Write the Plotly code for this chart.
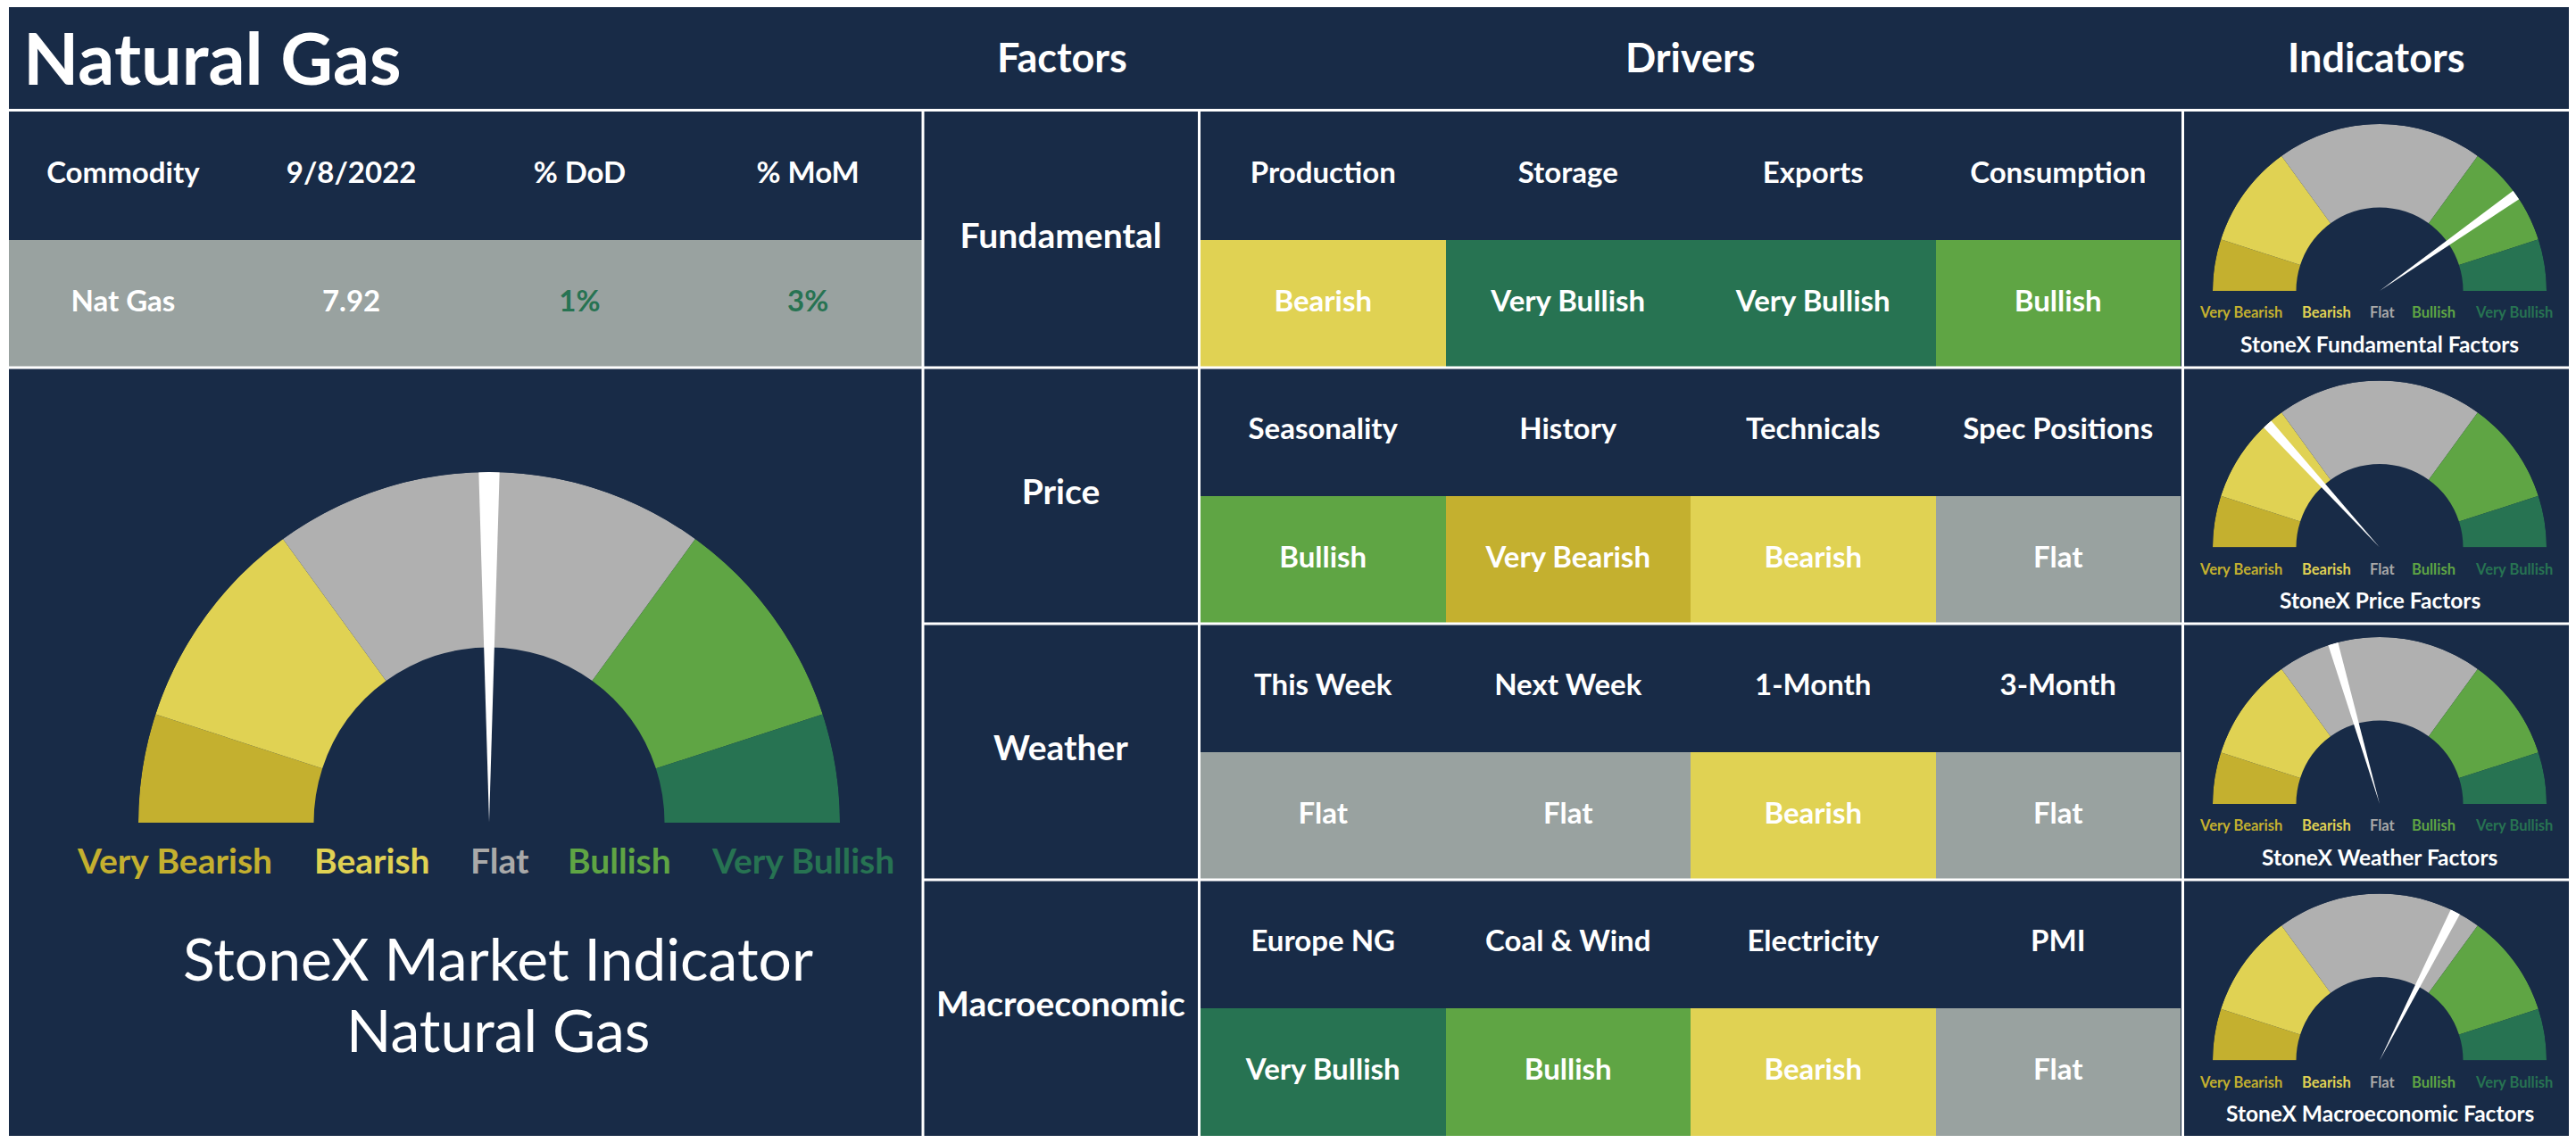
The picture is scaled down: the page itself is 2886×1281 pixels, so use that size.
import plotly.graph_objects as go

W, H = 2886, 1281          # browser window
M = 8                      # default page margin around the plot div

# ---------------- data ----------------
TITLE = "Natural Gas"
TABLE_HEADERS = ["Commodity", "9/8/2022", "% DoD", "% MoM"]
TABLE_VALUES = ["Nat Gas", "7.92", "1%", "3%"]
COLUMN_TITLES = ["Factors", "Drivers", "Indicators"]
FACTORS = ["Fundamental", "Price", "Weather", "Macroeconomic"]
DRIVERS = [
    ["Production", "Storage", "Exports", "Consumption"],
    ["Seasonality", "History", "Technicals", "Spec Positions"],
    ["This Week", "Next Week", "1-Month", "3-Month"],
    ["Europe NG", "Coal & Wind", "Electricity", "PMI"],
]
SIGNALS = [
    ["Bearish", "Very Bullish", "Very Bullish", "Bullish"],
    ["Bullish", "Very Bearish", "Bearish", "Flat"],
    ["Flat", "Flat", "Bearish", "Flat"],
    ["Very Bullish", "Bullish", "Bearish", "Flat"],
]
BANDS = ["Very Bearish", "Bearish", "Flat", "Bullish", "Very Bullish"]
BAND_SHARES = [10, 20, 40, 20, 10]
OVERALL_READING = 50
FACTOR_READINGS = [80.5, 26.5, 41, 65]
GAUGE_TITLES = ["StoneX Fundamental Factors", "StoneX Price Factors",
                "StoneX Weather Factors", "StoneX Macroeconomic Factors"]
MAIN_GAUGE_TITLE = ["StoneX Market Indicator", "Natural Gas"]

# ---------------- styles ----------------
NAVY = "#182b47"
WHITE = "#ffffff"
FONT = "Lato"
BAND_COLORS = {"Very Bearish": "#c4b02f", "Bearish": "#e0d253", "Flat": "#b0b0b0",
               "Bullish": "#5fa544", "Very Bullish": "#277352"}
CELL_COLORS = dict(BAND_COLORS, Flat="#99a2a0")
LABEL_COLORS = dict(BAND_COLORS, Flat="#a9a9a9")
UP_GREEN = "#277352"

FW, FH = W - 2 * M, H - 2 * M


def px(p):
    """page pixel x -> paper fraction"""
    return (p - M) / FW


def py(p):
    """page pixel y -> paper fraction"""
    return 1 - (p - M) / FH


def clamp(v):
    return min(1.0, max(0.0, v))


fig = go.Figure()

# discrete colour scale: 0 = navy header, 1..5 = signal bands
codes = [NAVY] + [CELL_COLORS[b] for b in BANDS]
n = len(codes)
cscale = []
for i, c in enumerate(codes):
    cscale += [[i / n, c], [(i + 1) / n, c]]

# ---------------- driver grid ----------------
z = []
for k in range(len(FACTORS)):
    z.append([0] * len(DRIVERS[k]))
    z.append([BANDS.index(s) + 1 for s in SIGNALS[k]])
fig.add_trace(go.Heatmap(z=z, x=list(range(4)), y=list(range(2 * len(FACTORS))),
                         colorscale=cscale, zmin=-0.5, zmax=n - 0.5, showscale=False,
                         hoverinfo="skip", xaxis="x", yaxis="y"))
tx, ty, tt = [], [], []
for k in range(len(FACTORS)):
    for j in range(4):
        tx += [j, j]
        ty += [2 * k, 2 * k + 1]
        tt += [DRIVERS[k][j], SIGNALS[k][j]]
fig.add_trace(go.Scatter(x=tx, y=ty, text=tt, mode="text", hoverinfo="skip",
                         textfont=dict(family=FONT, size=33, color=WHITE, weight=700),
                         xaxis="x", yaxis="y", showlegend=False))

# ---------------- factor column ----------------
fig.add_trace(go.Scatter(x=[0] * len(FACTORS), y=[2 * k + 0.5 for k in range(len(FACTORS))],
                         text=FACTORS, mode="text", hoverinfo="skip",
                         textfont=dict(family=FONT, size=39, color=WHITE, weight=700),
                         xaxis="x2", yaxis="y", showlegend=False))

# ---------------- commodity table ----------------
fig.add_trace(go.Heatmap(z=[[0] * 4, [BANDS.index("Flat") + 1] * 4], x=list(range(4)), y=[0, 1],
                         colorscale=cscale, zmin=-0.5, zmax=n - 0.5, showscale=False,
                         hoverinfo="skip", xaxis="x3", yaxis="y"))
val_colors = [UP_GREEN if v.endswith("%") and not v.startswith("-") else WHITE for v in TABLE_VALUES]
fig.add_trace(go.Scatter(x=list(range(4)) * 2, y=[0] * 4 + [1] * 4,
                         text=TABLE_HEADERS + TABLE_VALUES, mode="text", hoverinfo="skip",
                         textfont=dict(family=FONT, size=33, weight=700,
                                       color=[WHITE] * 4 + val_colors),
                         xaxis="x3", yaxis="y", showlegend=False))

# ---------------- gauges ----------------
band_theta, band_width = [], []
start = 180.0
for s in BAND_SHARES:
    wdt = s / sum(BAND_SHARES) * 180
    band_theta.append(start - wdt / 2)
    band_width.append(wdt)
    start -= wdt

annotations = []


def add_gauge(idx, cx, cy, R, reading, needle_w, lab_dx, lab_dy, lab_size):
    name = "polar" if idx == 1 else "polar%d" % idx
    fig.add_trace(go.Barpolar(r=[0.5] * len(BANDS), base=[0.5] * len(BANDS), theta=band_theta,
                              width=band_width, marker=dict(color=[BAND_COLORS[b] for b in BANDS],
                                                            line=dict(width=0)),
                              hoverinfo="skip", subplot=name, showlegend=False))
    fig.add_trace(go.Barpolar(r=[1], base=[0], theta=[180 - reading * 1.8], width=[needle_w],
                              marker=dict(color=WHITE, line=dict(width=0)),
                              hoverinfo="skip", subplot=name, showlegend=False))
    fig.layout[name] = dict(domain=dict(x=[clamp(px(cx - R)), clamp(px(cx + R))],
                                        y=[clamp(py(cy)), clamp(py(cy - R))]),
                            sector=[0, 180], hole=0, bgcolor="rgba(0,0,0,0)",
                            radialaxis=dict(visible=False, range=[0, 1]),
                            angularaxis=dict(visible=False))
    for b, dx in zip(BANDS, lab_dx):
        annotations.append(dict(x=px(cx + dx), y=py(cy + lab_dy), xref="paper", yref="paper",
                                text=b, showarrow=False, xanchor="center", yanchor="middle",
                                font=dict(family=FONT, size=lab_size, color=LABEL_COLORS[b], weight=700)))


add_gauge(1, 548, 922, 393, OVERALL_READING, 3.4, [-353, -131, 12, 146, 351], 42, 39)
for k in range(len(FACTORS)):
    cy = 125 + k * 287.5 + 201
    add_gauge(k + 2, 2666, cy, 187, FACTOR_READINGS[k], 3.5, [-156, -60, 3, 60, 150], 24, 16.5)
    annotations.append(dict(x=px(2666), y=py(cy + 59), xref="paper", yref="paper",
                            text=GAUGE_TITLES[k], showarrow=False, xanchor="center", yanchor="middle",
                            font=dict(family=FONT, size=24.5, color=WHITE, weight=700)))

for i, line in enumerate(MAIN_GAUGE_TITLE):
    annotations.append(dict(x=px(558), y=py(1073 + 80 * i), xref="paper", yref="paper", text=line,
                            showarrow=False, xanchor="center", yanchor="middle",
                            font=dict(family=FONT, size=66, color=WHITE, weight=400)))

# header texts
annotations.append(dict(x=px(24), y=py(64), xref="paper", yref="paper", text=TITLE, showarrow=False,
                        xanchor="left", yanchor="middle",
                        font=dict(family=FONT, size=81, color=WHITE, weight=700)))
for t, cx in zip(COLUMN_TITLES, [1190, 1894, 2662]):
    annotations.append(dict(x=px(cx), y=py(64), xref="paper", yref="paper", text=t, showarrow=False,
                            xanchor="center", yanchor="middle",
                            font=dict(family=FONT, size=45, color=WHITE, weight=700)))

# ---------------- frame & grid lines ----------------
shapes = [dict(type="rect", xref="paper", yref="paper", x0=px(10), x1=px(2900), y0=py(1290), y1=py(6),
               fillcolor=NAVY, line=dict(width=0), layer="below")]
wl = dict(color=WHITE, width=3)
shapes.append(dict(type="line", xref="paper", yref="paper", x0=px(10), x1=px(2900),
                   y0=py(123.5), y1=py(123.5), line=wl))
for k in range(1, len(FACTORS)):
    x0 = 10 if k == 1 else 1034
    shapes.append(dict(type="line", xref="paper", yref="y", x0=px(x0), x1=px(2900),
                       y0=2 * k - 0.5, y1=2 * k - 0.5, line=wl))
for xv in [1034, 1343.5, 2445.5]:
    shapes.append(dict(type="line", xref="paper", yref="paper", x0=px(xv), x1=px(xv),
                       y0=py(1290), y1=py(123.5), line=wl))

ax = dict(visible=False, showgrid=False, zeroline=False, fixedrange=True)
fig.update_layout(
    width=FW, height=FH, margin=dict(l=0, r=0, t=0, b=0),
    paper_bgcolor=WHITE, plot_bgcolor="rgba(0,0,0,0)", showlegend=False,
    xaxis=dict(ax, domain=[px(1345), px(2443)], range=[-0.5, 3.5]),
    xaxis2=dict(ax, domain=[px(1035), px(1342)], range=[-0.5, 0.5], anchor="y"),
    xaxis3=dict(ax, domain=[px(10), px(1033)], range=[-0.5, 3.5], anchor="y"),
    yaxis=dict(ax, domain=[clamp(py(1275)), py(125)], range=[7.5, -0.5]),
    shapes=shapes, annotations=annotations,
)

fig.write_html("out.html")
